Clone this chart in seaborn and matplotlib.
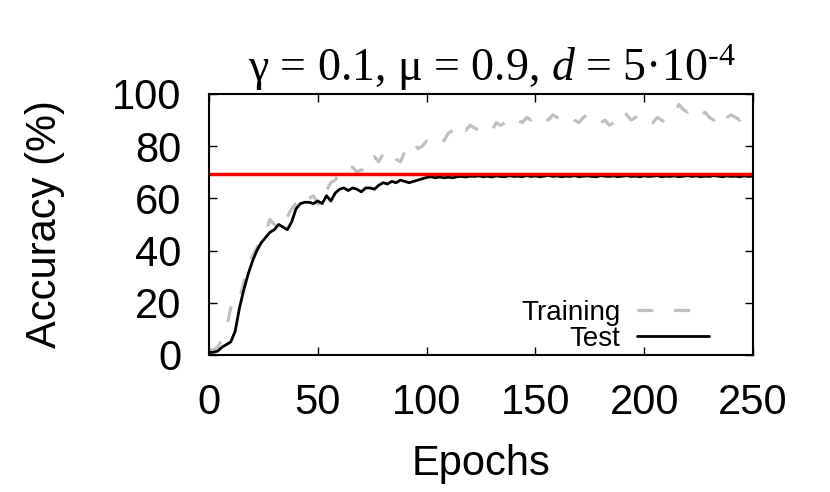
import numpy as np
import matplotlib
matplotlib.use("Agg")
import matplotlib.pyplot as plt
import seaborn as sns

# epochs (every 2nd epoch)
epochs = np.arange(0, 251, 2)

train_acc = [2, 2, 3, 6, 10, 18, 22, 21, 28, 34, 38, 41, 44, 47, 52, 50, 48, 51, 53, 56,
             58, 59, 57, 60, 61, 58, 57, 63, 66, 67, 70, 69, 71, 72, 70, 71, 70, 75, 76, 74,
             77, 76, 78, 75, 74, 78, 81, 82, 79, 80, 82, 81, 83, 84, 82, 85, 86, 84, 87, 86,
             88, 87, 86, 88, 87, 86, 89, 88, 89, 87, 88, 90, 89, 91, 90, 92, 93, 91, 90, 92,
             91, 91, 90, 92, 90, 89, 91, 92, 90, 91, 89, 90, 88, 89, 91, 94, 92, 90, 91, 93,
             92, 90, 89, 91, 90, 89, 91, 93, 96, 94, 93, 95, 94, 92, 93, 91, 90, 92, 89, 91,
             92, 91, 90, 93, 92, 91]

test_acc = [1, 1, 1.5, 3, 4, 5, 9, 18, 25, 31, 36, 40, 43, 45, 47, 48, 50, 49, 48, 51,
            56, 58, 58.5, 58.5, 58, 59, 58, 61, 59, 62, 63.5, 64, 63, 64, 63.5, 62.5, 64, 64, 63.5, 65,
            66, 65.5, 66.5, 66, 67, 66.5, 66, 66.5, 67, 67.5, 68, 68.3, 67.9, 68.2, 67.9, 68.1, 67.9, 68.3, 68.4, 68.2,
            68.5, 68.4, 68.6, 68.3, 68.5, 68.2, 68.6, 68.4, 68.3, 68.7, 68.4, 68.5, 68.3, 68.7, 68.4, 68.6, 68.3, 68.5, 68.8, 68.4,
            68.6, 68.3, 68.5, 68.4, 68.7, 68.3, 68.5, 68.6, 68.4, 68.3, 68.7, 68.5, 68.4, 68.6, 68.3, 68.5, 68.7, 68.4, 68.5, 68.3,
            68.6, 68.4, 68.5, 68.7, 68.3, 68.5, 68.4, 68.6, 68.3, 68.5, 68.7, 68.4, 68.6, 68.3, 68.5, 68.4, 68.7, 68.5, 68.3, 68.6,
            68.4, 68.5, 68.3, 68.6, 68.4, 68.5]

ref_acc = 69.3

sns.set_style("ticks")
plt.rcParams["font.family"] = ["Liberation Sans", "DejaVu Sans"]
plt.rcParams["text.color"] = "black"
plt.rcParams["axes.labelcolor"] = "black"
plt.rcParams["mathtext.fontset"] = "custom"
plt.rcParams["mathtext.rm"] = "Liberation Serif"
plt.rcParams["mathtext.it"] = "Liberation Serif:italic"

fig = plt.figure(figsize=(8.3, 4.92), dpi=100)
ax = fig.add_axes([0.2518, 0.2785, 0.6554, 0.5305])

sns.lineplot(x=epochs, y=train_acc, color="#c0c0c0", lw=2.3, linestyle=(0, (5, 6.5)),
             label="Training", ax=ax)
sns.lineplot(x=epochs, y=test_acc, color="black", lw=2.0, label="Test", ax=ax)
ax.axhline(ref_acc, color="#ff0000", lw=2.5)

ax.set_xlim(0, 250)
ax.set_ylim(0, 100)
ax.set_xticks([0, 50, 100, 150, 200, 250])
ax.set_yticks([0, 20, 40, 60, 80, 100])
ax.tick_params(direction="in", length=6, width=1, top=True, right=True,
               labelsize=30, pad=20, colors="black")
for s in ax.spines.values():
    s.set_linewidth(1.5)
    s.set_color("black")

ax.set_xlabel("Epochs", fontsize=30, labelpad=15)
ax.set_ylabel("Accuracy (%)", fontsize=30, labelpad=34)
ax.set_title("γ = 0.1, μ = 0.9, $\\mathit{d}$ = 5·10$^{\\text{-4}}$",
             fontsize=33, family="Liberation Serif", pad=9, x=0.52)

ax.legend(loc="lower right", bbox_to_anchor=(0.94, -0.03), frameon=False,
          markerfirst=False, fontsize=20, handlelength=2.6, labelspacing=0.0,
          handletextpad=0.6, borderaxespad=0)

fig.savefig("out.png", dpi=100)
